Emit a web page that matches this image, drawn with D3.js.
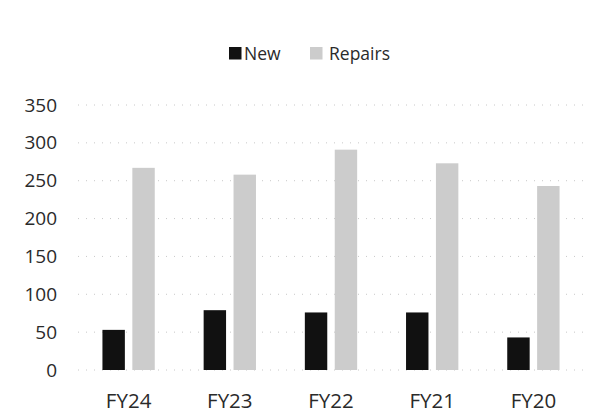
<!DOCTYPE html>
<html>
<head>
<meta charset="utf-8">
<script src="https://cdn.jsdelivr.net/npm/d3@7"></script>
<style>
  body { margin: 0; background: #fff; }
  text { font-family: "Open Sans", sans-serif; fill: #2a2a2a; }
</style>
</head>
<body>
<div id="chart"></div>
<script>
// data
var categories = ['FY24', 'FY23', 'FY22', 'FY21', 'FY20']
var seriesNames = ['New', 'Repairs']
var newValues = [53, 79, 76, 76, 43]
var repairsValues = [267, 258, 291, 273, 243]
var yTicks = [0, 50, 100, 150, 200, 250, 300, 350]

var colors = { New: '#111111', Repairs: '#cccccc' }

var width = 600, height = 416
var plot = { left: 78, right: 584, top: 105, bottom: 370 }

var svg = d3.select('#chart').append('svg')
    .attr('width', width)
    .attr('height', height)

var x0 = d3.scaleBand()
    .domain(categories)
    .range([plot.left, plot.right])
    .paddingInner(0.483)
    .paddingOuter(0.2415)

var x1 = d3.scaleBand()
    .domain(seriesNames)
    .range([0, x0.bandwidth()])
    .paddingInner(0.25)

var y = d3.scaleLinear()
    .domain([0, 350])
    .range([plot.bottom, plot.top])

//gridlines
svg.append('g')
    .selectAll('line')
    .data(yTicks)
    .enter().append('line')
    .attr('x1', plot.left)
    .attr('x2', plot.right)
    .attr('y1', d => y(d))
    .attr('y2', d => y(d))
    .attr('stroke', '#c8c8c8')
    .attr('stroke-width', 1)
    .attr('stroke-dasharray', '1,7')

//y axis labels
var yAxis = svg.append('g')
    .attr('transform', 'translate(57,0)')
    .call(d3.axisLeft(y).tickValues(yTicks).tickSize(0).tickPadding(0))
yAxis.select('.domain').remove()
yAxis.selectAll('text')
    .style('font-size', '19px')
    .style('font-family', '"Open Sans", sans-serif')
    .attr('fill', '#2a2a2a')

//x axis labels
var xAxis = svg.append('g')
    .attr('transform', 'translate(0,393)')
    .call(d3.axisBottom(x0).tickSize(0).tickPadding(0))
xAxis.select('.domain').remove()
xAxis.selectAll('text')
    .style('font-size', '20.5px')
    .style('font-family', '"Open Sans", sans-serif')
    .attr('fill', '#2a2a2a')

//bars
var rows = categories.map((c, i) => ({ label: c, New: newValues[i], Repairs: repairsValues[i] }))

svg.append('g')
    .selectAll('g')
    .data(rows)
    .enter().append('g')
    .attr('transform', d => 'translate(' + x0(d.label) + ',0)')
    .selectAll('rect')
    .data(d => seriesNames.map(k => ({ key: k, value: d[k] })))
    .enter().append('rect')
    .attr('x', d => x1(d.key))
    .attr('y', d => y(d.value))
    .attr('width', x1.bandwidth())
    .attr('height', d => y(0) - y(d.value))
    .attr('fill', d => colors[d.key])

//legend
var legend = svg.append('g').attr('transform', 'translate(229,47)')
var legendX = [0, 81]
seriesNames.forEach((name, i) => {
    var item = legend.append('g').attr('transform', 'translate(' + legendX[i] + ',0)')
    item.append('rect')
        .attr('width', 12.5)
        .attr('height', 12.5)
        .attr('fill', colors[name])
    item.append('text')
        .attr('x', i === 0 ? 15 : 19)
        .attr('y', 6.5)
        .attr('dy', '0.35em')
        .style('font-size', '17.5px')
        .text(name)
})
</script>
</body>
</html>
